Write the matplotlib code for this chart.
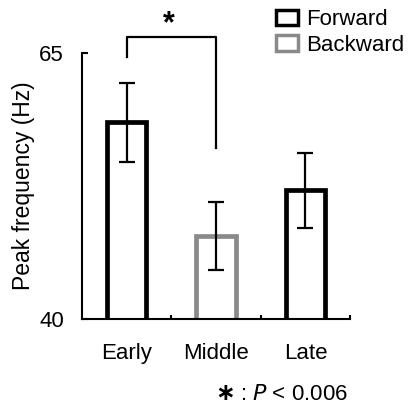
import numpy as np
import matplotlib.pyplot as plt
from matplotlib.patches import Patch

plt.rcParams['font.family'] = ['Liberation Sans', 'DejaVu Sans']

## data
periods = ['Early', 'Middle', 'Late']
means = [58.5, 47.8, 52.1]
errors = [3.7, 3.2, 3.5]
directions = ['Forward', 'Backward', 'Forward']
edge = {'Forward': 'black', 'Backward': '#8a8a8a'}

# significance bracket: Early vs Middle
sig_pair = (0, 1)
sig_top = 66.5
sig_ends = [64.6, 56.1]

fig = plt.figure(figsize=(4.09, 4.08), dpi=100)
ax = fig.add_axes([0.2005, 0.218, 0.6555, 0.652])

x = np.arange(len(periods))
for i in x:
    c = edge[directions[i]]
    ax.bar(x[i], means[i], width=0.44, bottom=0, facecolor='white',
           edgecolor=c, linewidth=3.4, zorder=2)
    ax.errorbar(x[i], means[i], yerr=errors[i], fmt='none', ecolor='black',
                elinewidth=1.6, capsize=5.5, capthick=1.6, zorder=3)

ax.set_ylim(40, 65)
ax.set_xlim(-0.5, 2.5)
ax.set_yticks([40, 65])
ax.set_yticklabels(['40', '65'], fontsize=16)
ax.set_xticks(x)
ax.set_xticklabels(periods, fontsize=16)
ax.set_xticks([0.5, 1.5, 2.5], minor=True)
ax.tick_params(axis='x', which='major', length=0, pad=17)
ax.tick_params(axis='x', which='minor', direction='in', length=3, width=1.5)
ax.tick_params(axis='y', direction='in', length=4, width=1.5, pad=13)
ax.set_ylabel('Peak frequency (Hz)', fontsize=16.5, labelpad=3)
for s in ['top', 'right']:
    ax.spines[s].set_visible(False)
for s in ['left', 'bottom']:
    ax.spines[s].set_linewidth(1.5)

# bracket
x0, x1 = sig_pair
ax.plot([x0, x0, x1, x1], [sig_ends[0], sig_top, sig_top, sig_ends[1]],
        color='black', lw=1.6, clip_on=False)
ax.text((x0 + x1) / 2 - 0.03, sig_top - 0.2, '*', ha='center', va='bottom',
        fontsize=22, fontweight='bold', clip_on=False)

handles = [Patch(facecolor='white', edgecolor=edge[d], linewidth=2.5, label=d)
           for d in ['Forward', 'Backward']]
fig.legend(handles=handles, loc='upper left', bbox_to_anchor=(0.675, 0.977),
           frameon=False, fontsize=16, handlelength=1.0, handleheight=0.7,
           handletextpad=0.35, labelspacing=0.2, borderaxespad=0,
           borderpad=0)

fig.text(0.527, 0.02, '\u2217', ha='left', va='baseline', fontsize=17,
         fontweight='bold', family='DejaVu Sans')
fig.text(0.85, 0.02, r': $\it{P}$ < 0.006', ha='right', va='baseline',
         fontsize=16)

fig.savefig('out.png', dpi=100)
